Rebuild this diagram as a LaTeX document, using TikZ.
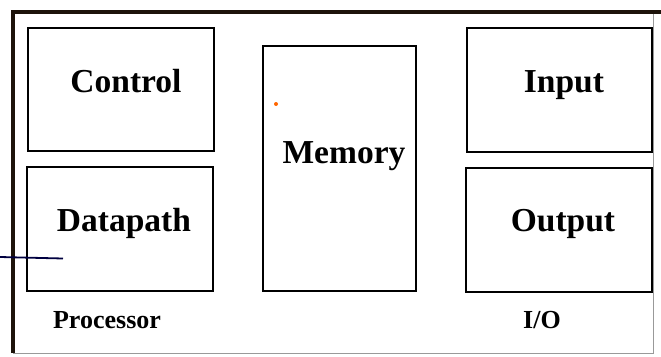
\documentclass[tikz,border=0pt]{standalone}
\usepackage{fontspec}
\setmainfont{Liberation Serif}
\begin{document}
\begin{tikzpicture}[x=1pt,y=-1pt,
  unit/.style={draw=black,line width=1.8pt},
  big/.style={font=\fontsize{33.5}{36}\selectfont\bfseries,anchor=base,inner sep=0pt},
  small/.style={font=\fontsize{26}{28}\selectfont\bfseries,anchor=base,inner sep=0pt}]
\useasboundingbox[fill=white] (0,0) rectangle (661,356);
% outer frame
\draw[line width=0.8pt,black!40] (653,12) -- (653,353) -- (13,353);
\draw[line width=4.5pt,black!85!brown] (13,353) -- (13,12) -- (661,12);
% boxes
\draw[unit] (28,28) rectangle (214,151);
\draw[unit] (27,167) rectangle (213,291);
\draw[unit] (263,46) rectangle (416,291);
\draw[unit] (467,28) rectangle (652,152);
\draw[unit] (466,168) rectangle (652,292);
% labels
\node[big] (control) at (126,92) {Control};
\node[big] (datapath) at (124,231) {Datapath};
\node[big] (memory) at (344,163) {Memory};
\node[big] (input) at (564,92) {Input};
\node[big] (output) at (563,231) {Output};
\node[small] (proc) at (107,328) {Processor};
\node[small] (io) at (542,328) {I/O};
% stray pen mark and speck
\coordinate (s1) at (0,257);
\coordinate (s2) at (63,258.5);
\draw[line width=1.8pt,blue!25!black] (s1) -- (s2);
\fill[orange!80!red] (276,104) circle (2pt);
\end{tikzpicture}
\end{document}
